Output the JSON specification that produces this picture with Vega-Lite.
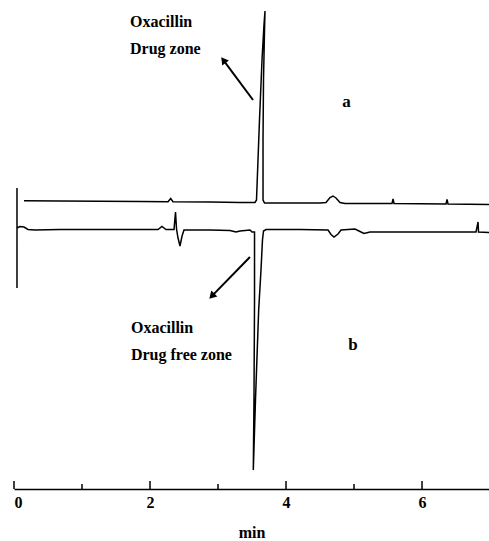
{
  "$schema": "https://vega.github.io/schema/vega-lite/v6.json",
  "autosize": "none",
  "width": 475,
  "height": 489,
  "padding": {"left": 14, "top": 0, "right": 0, "bottom": 52},
  "background": "white",
  "config": {"view": {"stroke": null}},
  "datasets": {
    "traceA": [
      {"i": 1, "t": 0.147, "v": 288.3}, {"i": 2, "t": 0.676, "v": 288}, {"i": 3, "t": 1.265, "v": 287.8},
      {"i": 4, "t": 1.853, "v": 287.5}, {"i": 5, "t": 2.265, "v": 287.3}, {"i": 6, "t": 2.304, "v": 290.5},
      {"i": 7, "t": 2.338, "v": 287.3}, {"i": 8, "t": 2.882, "v": 287}, {"i": 9, "t": 3.324, "v": 286.5},
      {"i": 10, "t": 3.544, "v": 286.5}, {"i": 11, "t": 3.566, "v": 289}, {"i": 12, "t": 3.588, "v": 329},
      {"i": 13, "t": 3.61, "v": 369}, {"i": 14, "t": 3.647, "v": 429}, {"i": 15, "t": 3.676, "v": 464},
      {"i": 16, "t": 3.691, "v": 478}, {"i": 17, "t": 3.684, "v": 459}, {"i": 18, "t": 3.669, "v": 409},
      {"i": 19, "t": 3.662, "v": 349}, {"i": 20, "t": 3.662, "v": 289}, {"i": 21, "t": 3.684, "v": 286},
      {"i": 22, "t": 4.059, "v": 286}, {"i": 23, "t": 4.5, "v": 286}, {"i": 24, "t": 4.588, "v": 286.5},
      {"i": 25, "t": 4.647, "v": 291.5}, {"i": 26, "t": 4.691, "v": 293}, {"i": 27, "t": 4.735, "v": 291},
      {"i": 28, "t": 4.794, "v": 286.5}, {"i": 29, "t": 4.868, "v": 285.5}, {"i": 30, "t": 5.559, "v": 285.5},
      {"i": 31, "t": 5.574, "v": 290}, {"i": 32, "t": 5.588, "v": 285.5}, {"i": 33, "t": 6.353, "v": 285},
      {"i": 34, "t": 6.368, "v": 289.5}, {"i": 35, "t": 6.382, "v": 285}, {"i": 36, "t": 6.985, "v": 284.5}
    ],
    "traceB": [
      {"i": 1, "t": 0.044, "v": 301}, {"i": 2, "t": 0.044, "v": 201}, {"i": 3, "t": 0.044, "v": 261},
      {"i": 4, "t": 0.088, "v": 262.5}, {"i": 5, "t": 0.147, "v": 262}, {"i": 6, "t": 0.206, "v": 259.5},
      {"i": 7, "t": 0.309, "v": 259}, {"i": 8, "t": 0.676, "v": 259.5}, {"i": 9, "t": 1.265, "v": 259.5},
      {"i": 10, "t": 1.853, "v": 259.5}, {"i": 11, "t": 2.118, "v": 259.5}, {"i": 12, "t": 2.176, "v": 262.5},
      {"i": 13, "t": 2.235, "v": 259.5}, {"i": 14, "t": 2.353, "v": 259.5}, {"i": 15, "t": 2.375, "v": 277},
      {"i": 16, "t": 2.39, "v": 260}, {"i": 17, "t": 2.412, "v": 251}, {"i": 18, "t": 2.441, "v": 243},
      {"i": 19, "t": 2.471, "v": 253}, {"i": 20, "t": 2.5, "v": 259}, {"i": 21, "t": 2.882, "v": 259},
      {"i": 22, "t": 3.176, "v": 258.5}, {"i": 23, "t": 3.265, "v": 257}, {"i": 24, "t": 3.324, "v": 258},
      {"i": 25, "t": 3.471, "v": 259}, {"i": 26, "t": 3.5, "v": 257}, {"i": 27, "t": 3.537, "v": 257},
      {"i": 28, "t": 3.537, "v": 189}, {"i": 29, "t": 3.529, "v": 89}, {"i": 30, "t": 3.519, "v": 19},
      {"i": 31, "t": 3.551, "v": 89}, {"i": 32, "t": 3.598, "v": 179}, {"i": 33, "t": 3.632, "v": 219},
      {"i": 34, "t": 3.654, "v": 249}, {"i": 35, "t": 3.669, "v": 258}, {"i": 36, "t": 3.706, "v": 259.5},
      {"i": 37, "t": 4.206, "v": 259.5}, {"i": 38, "t": 4.618, "v": 259}, {"i": 39, "t": 4.662, "v": 254.5},
      {"i": 40, "t": 4.706, "v": 252}, {"i": 41, "t": 4.765, "v": 255}, {"i": 42, "t": 4.809, "v": 259},
      {"i": 43, "t": 5.015, "v": 260}, {"i": 44, "t": 5.088, "v": 257.5}, {"i": 45, "t": 5.147, "v": 255.5},
      {"i": 46, "t": 5.235, "v": 257}, {"i": 47, "t": 5.971, "v": 257}, {"i": 48, "t": 6.794, "v": 257},
      {"i": 49, "t": 6.824, "v": 267}, {"i": 50, "t": 6.831, "v": 257}, {"i": 51, "t": 6.985, "v": 256.5}
    ],
    "ticks": [
      {"t": 0, "len": 8}, {"t": 1, "len": 5}, {"t": 2, "len": 8}, {"t": 3, "len": 5},
      {"t": 4, "len": 8}, {"t": 5, "len": 5}, {"t": 6, "len": 8}
    ],
    "notes": [
      {"t": 1.706, "v": 467.3, "text": "Oxacillin"},
      {"t": 1.706, "v": 440, "text": "Drug zone"},
      {"t": 1.72, "v": 161, "text": "Oxacillin"},
      {"t": 1.72, "v": 134, "text": "Drug free zone"}
    ],
    "tags": [
      {"t": 4.89, "v": 387.3, "text": "a"},
      {"t": 4.985, "v": 144, "text": "b"}
    ],
    "arrows": [
      {"t": 3.515, "v": 389, "t2": 3.079, "v2": 428.8, "angle": 323},
      {"t": 3.47, "v": 232, "t2": 2.909, "v2": 192.9, "angle": 224}
    ]
  },
  "layer": [
    {
      "data": {"name": "ticks"},
      "mark": {"type": "rule", "color": "black", "strokeWidth": 1.5},
      "encoding": {
        "x": {"field": "t", "type": "quantitative", "scale": {"domain": [0, 6.985], "nice": false, "zero": false},
          "axis": {"values": [0, 2, 4, 6], "format": "d", "ticks": false, "grid": false, "domainColor": "black", "domainWidth": 1.5,
            "labelFont": "Liberation Serif", "labelFontSize": 16, "labelFontWeight": "bold", "labelColor": "black", "labelPadding": 5,
            "title": "min", "titleFont": "Liberation Serif", "titleFontSize": 16, "titleFontWeight": "bold",
            "titleColor": "black", "titlePadding": 14}},
        "y": {"field": "len", "type": "quantitative", "scale": {"domain": [0, 489], "nice": false, "zero": false}, "axis": null},
        "y2": {"datum": 0}
      }
    },
    {
      "data": {"name": "traceA"},
      "mark": {"type": "line", "color": "black", "strokeWidth": 1.5},
      "encoding": {
        "x": {"field": "t", "type": "quantitative"},
        "y": {"field": "v", "type": "quantitative"},
        "order": {"field": "i", "type": "quantitative"}
      }
    },
    {
      "data": {"name": "traceB"},
      "mark": {"type": "line", "color": "black", "strokeWidth": 1.5},
      "encoding": {
        "x": {"field": "t", "type": "quantitative"},
        "y": {"field": "v", "type": "quantitative"},
        "order": {"field": "i", "type": "quantitative"}
      }
    },
    {
      "data": {"name": "arrows"},
      "mark": {"type": "rule", "color": "black", "strokeWidth": 2},
      "encoding": {
        "x": {"field": "t", "type": "quantitative"},
        "y": {"field": "v", "type": "quantitative"},
        "x2": {"field": "t2"},
        "y2": {"field": "v2"}
      }
    },
    {
      "data": {"name": "arrows"},
      "mark": {"type": "point", "shape": "triangle-up", "filled": true, "color": "black", "size": 70, "opacity": 1},
      "encoding": {
        "x": {"field": "t2", "type": "quantitative"},
        "y": {"field": "v2", "type": "quantitative"},
        "angle": {"field": "angle", "type": "quantitative", "scale": null}
      }
    },
    {
      "data": {"name": "notes"},
      "mark": {"type": "text", "font": "Liberation Serif", "fontSize": 16, "fontWeight": "bold", "color": "black", "baseline": "middle", "align": "left"},
      "encoding": {
        "x": {"field": "t", "type": "quantitative"},
        "y": {"field": "v", "type": "quantitative"},
        "text": {"field": "text"}
      }
    },
    {
      "data": {"name": "tags"},
      "mark": {"type": "text", "font": "Liberation Serif", "fontSize": 17, "fontWeight": "bold", "color": "black", "baseline": "middle", "align": "center"},
      "encoding": {
        "x": {"field": "t", "type": "quantitative"},
        "y": {"field": "v", "type": "quantitative"},
        "text": {"field": "text"}
      }
    }
  ]
}
